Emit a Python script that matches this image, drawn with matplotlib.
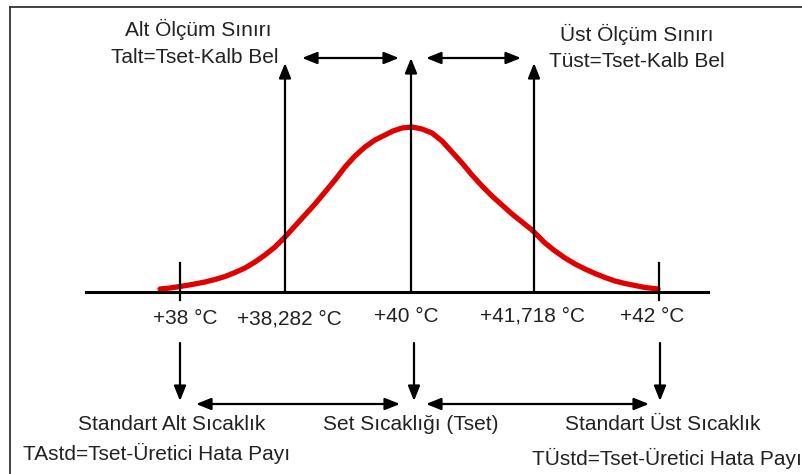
import matplotlib
matplotlib.use("Agg")
import matplotlib.pyplot as plt

plt.rcParams["font.family"] = ["Liberation Sans", "DejaVu Sans"]

# schematic diagram, drawn in a pixel-like coordinate system (y grows downward)
temp_labels = ["+38 °C", "+38,282 °C", "+40 °C", "+41,718 °C", "+42 °C"]
temp_x = [180, 285, 411, 534, 659]
label_xy = [(185, 319), (289, 319), (406, 317), (533, 316), (652, 316)]

# red bell curve
curve_x = [160, 170, 180, 192, 205, 215, 225, 235, 245, 255, 265, 275, 285, 295,
           305, 315, 325, 335, 345, 355, 365, 375, 385, 393, 402, 412,
           422, 432, 442, 452, 462, 472, 482, 492, 502, 512, 522, 532, 545,
           555, 565, 575, 585, 595, 605, 615, 625, 635, 645, 658]
curve_y = [289, 288, 286.5, 284.5, 282, 279.5, 276.5, 272.5, 268, 262, 255, 247, 237, 226,
           215, 204, 192, 180, 167, 156, 147, 140, 135, 131, 128, 127,
           129, 133, 141, 152, 163, 175, 186, 196, 205, 214, 222, 230, 243,
           251, 258, 264, 269, 273.5, 277.5, 281, 283.5, 285.5, 287.5, 289]

top_texts = [
    ("Alt Ölçüm Sınırı", 198, 29),
    ("Talt=Tset-Kalb Bel", 195, 57),
    ("Üst Ölçüm Sınırı", 637, 34),
    ("Tüst=Tset-Kalb Bel", 637, 61),
]
bottom_texts = [
    ("Standart Alt Sıcaklık", 172, 425),
    ("TAstd=Tset-Üretici Hata Payı", 157, 453),
    ("Set Sıcaklığı (Tset)", 411, 425),
    ("Standart Üst Sıcaklık", 663, 425),
]

fig = plt.figure(figsize=(8.02, 4.74), dpi=100)
ax = fig.add_axes([0, 0, 1, 1])
ax.set_xlim(0, 802)
ax.set_ylim(474, 0)
ax.axis("off")

# frame
ax.plot([10, 10], [474, 7], color="#333333", lw=1.3)
ax.plot([10, 802], [7, 7], color="#333333", lw=1.3)

# curve
ax.plot(curve_x, curve_y, color="#e00000", lw=3.8, solid_capstyle="round",
        solid_joinstyle="round", zorder=2)

# base axis
ax.plot([86, 708], [292, 292], color="black", lw=2.2, zorder=3)

# short ticks at 38 and 42
for x in [temp_x[0], temp_x[4]]:
    ax.plot([x, x], [263, 300], color="black", lw=1.6, zorder=3)

# up arrows
head = "-|>,head_length=0.75,head_width=0.3"
dbl = "<|-|>,head_length=0.75,head_width=0.3"
for x, tip in [(temp_x[1], 63), (temp_x[2], 58), (temp_x[3], 63)]:
    ax.annotate("", xy=(x, tip), xytext=(x, 292),
                arrowprops=dict(arrowstyle=head, color="black", lw=1.6,
                                mutation_scale=12, shrinkA=0, shrinkB=0), zorder=3)

# top double arrows
for x0, x1 in [(302, 399), (426, 521)]:
    ax.annotate("", xy=(x1, 58), xytext=(x0, 58),
                arrowprops=dict(arrowstyle=dbl, color="black", lw=1.6,
                                mutation_scale=12, shrinkA=0, shrinkB=0))

# down arrows
for x in [180, 414, 660]:
    ax.annotate("", xy=(x, 401), xytext=(x, 343),
                arrowprops=dict(arrowstyle=head, color="black", lw=1.6,
                                mutation_scale=12, shrinkA=0, shrinkB=0))

# bottom double arrows
for x0, x1 in [(196, 400), (426, 649)]:
    ax.annotate("", xy=(x1, 404), xytext=(x0, 404),
                arrowprops=dict(arrowstyle=dbl, color="black", lw=1.6,
                                mutation_scale=12, shrinkA=0, shrinkB=0))

fs = 15
for lab, (x, y) in zip(temp_labels, label_xy):
    ax.text(x, y, lab, ha="center", va="center", fontsize=fs, color="#222222")
for s, x, y in top_texts + bottom_texts:
    ax.text(x, y, s, ha="center", va="center", fontsize=fs, color="#222222")
ax.text(532, 458, "TÜstd=Tset-Üretici Hata Payı", ha="left", va="center",
        fontsize=fs, color="#222222", clip_on=True)

fig.savefig("out.png", dpi=100)
